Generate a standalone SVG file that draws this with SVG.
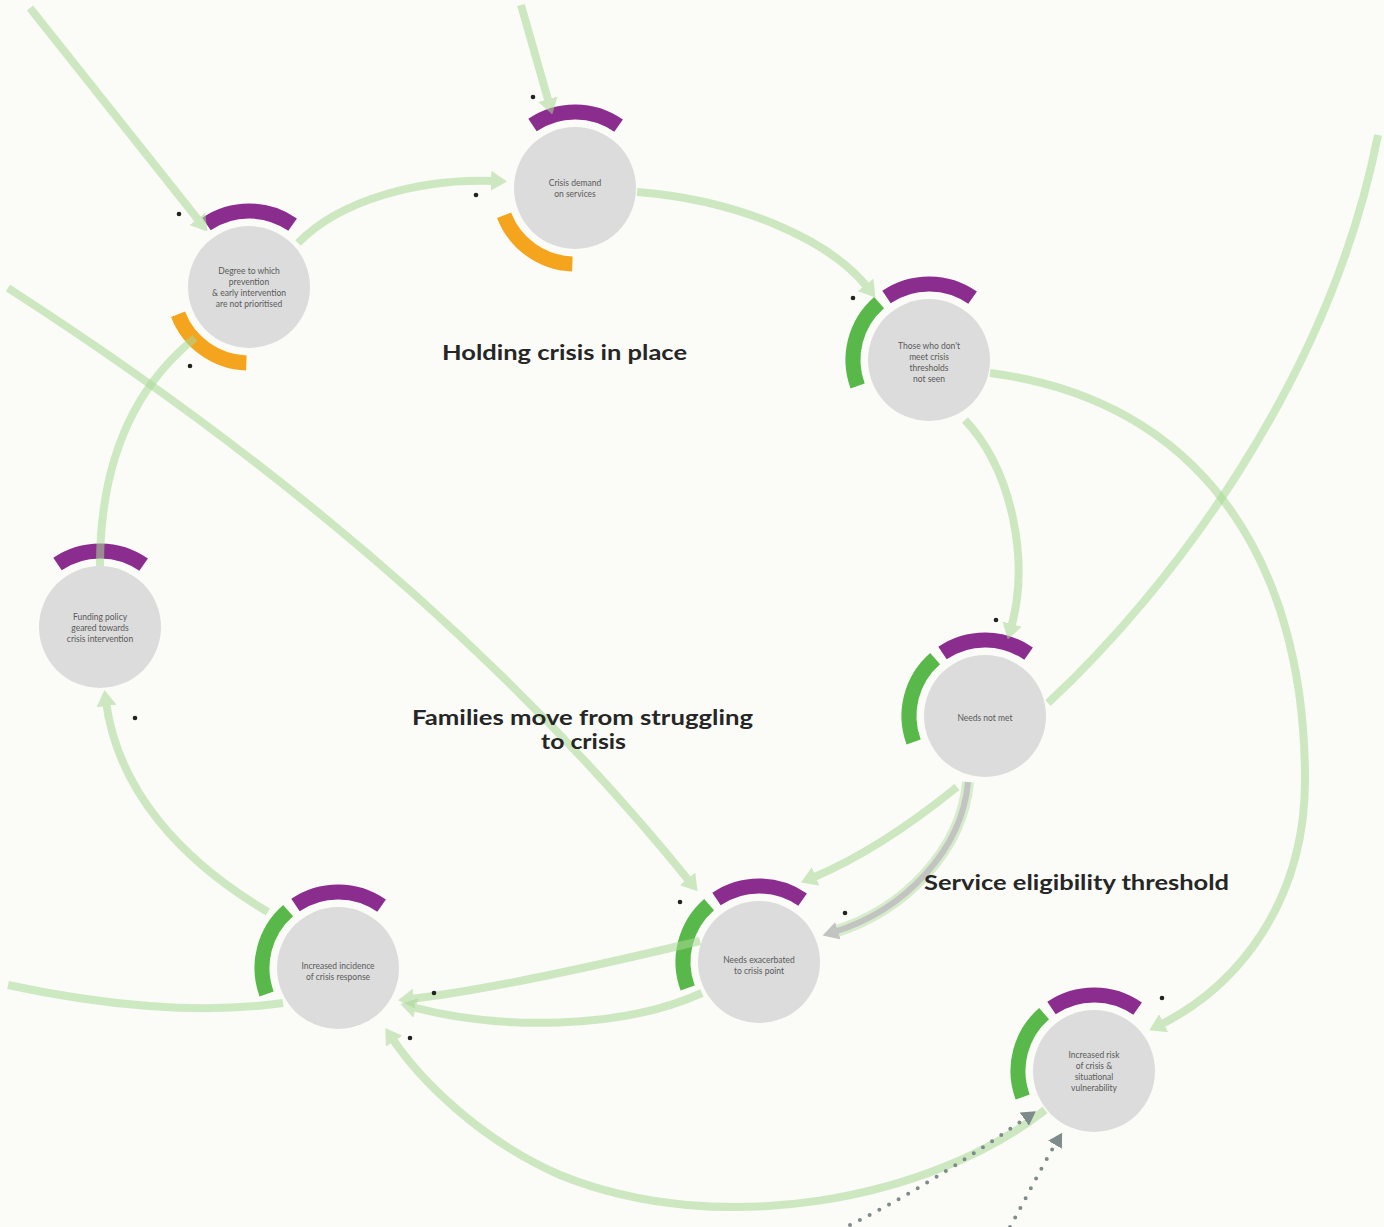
<svg xmlns="http://www.w3.org/2000/svg" xmlns:xlink="http://www.w3.org/1999/xlink" width="1384" height="1227" viewBox="0 0 1384 1227">
  <style>
    .disc { fill: #dcdcdc; }
    .pur { fill: none; stroke: #8b2c8f; stroke-width: 15; }
    .org { fill: none; stroke: #f5a41d; stroke-width: 15; }
    .grn { fill: none; stroke: #58b84a; stroke-width: 15; }
    .ntxt { font-family: "Lato", "Open Sans", sans-serif; font-size: 8.5px; fill: #5a5a5a; text-anchor: middle; }
    .lbl { font-family: "Lato", "Open Sans", sans-serif; font-size: 21px; font-weight: 700; fill: #262626; }
    .c { fill: none; stroke: #a8d995; stroke-width: 8; opacity: 0.55; }
    .halo { fill: none; stroke: #a8d995; stroke-width: 12; opacity: 0.45; }
    .gray { fill: none; stroke: #c2c4c2; stroke-width: 6; }
    .dots { fill: none; stroke: #7e8b8b; stroke-width: 4; stroke-linecap: round; stroke-dasharray: 0 11; }
    .pol { fill: #222; }
  </style>
  <defs>
    <marker id="ah" viewBox="0 0 16 20" refX="4" refY="10" markerWidth="16" markerHeight="20" markerUnits="userSpaceOnUse" orient="auto">
      <path d="M0,0 L16,10 L0,20 Z" fill="#a8d995"/>
    </marker>
    <marker id="ahGray" viewBox="0 0 16 18" refX="4" refY="9" markerWidth="16" markerHeight="18" markerUnits="userSpaceOnUse" orient="auto">
      <path d="M0,0 L16,9 L0,18 Z" fill="#c2c4c2"/>
    </marker>
    <marker id="ahDot" viewBox="0 0 14 16" refX="2" refY="8" markerWidth="14" markerHeight="16" markerUnits="userSpaceOnUse" orient="auto">
      <path d="M0,0 L14,8 L0,16 Z" fill="#7e8b8b"/>
    </marker>
    <!-- ring segments around a node, in node-local coordinates -->
    <path id="arcTop" d="M-42.5,-63 A76,76 0 0 1 43.6,-62.3"/>
    <path id="arcLow" d="M-2.65,75.95 A76,76 0 0 1 -70.95,27.2"/>
    <path id="arcLeft" d="M-71.4,26 A76,76 0 0 1 -49.9,-57.4"/>
  </defs>

  <rect width="1384" height="1227" fill="#fbfcf8"/>

  <!-- nodes -->
  <g id="n-prevention" transform="translate(249,287)">
    <use xlink:href="#arcTop" class="pur"/>
    <use xlink:href="#arcLow" class="org"/>
    <circle r="61" class="disc"/>
    <text class="ntxt"><tspan x="0" y="-13">Degree to which</tspan><tspan x="0" y="-2">prevention</tspan><tspan x="0" y="9">&amp; early intervention</tspan><tspan x="0" y="20">are not prioritised</tspan></text>
  </g>
  <g id="n-demand" transform="translate(575,188)">
    <use xlink:href="#arcTop" class="pur"/>
    <use xlink:href="#arcLow" class="org"/>
    <circle r="61" class="disc"/>
    <text class="ntxt"><tspan x="0" y="-2">Crisis demand</tspan><tspan x="0" y="9">on services</tspan></text>
  </g>
  <g id="n-unseen" transform="translate(929,360)">
    <use xlink:href="#arcTop" class="pur"/>
    <use xlink:href="#arcLeft" class="grn"/>
    <circle r="61" class="disc"/>
    <text class="ntxt"><tspan x="0" y="-11">Those who don't</tspan><tspan x="0" y="0">meet crisis</tspan><tspan x="0" y="11">thresholds</tspan><tspan x="0" y="22">not seen</tspan></text>
  </g>
  <g id="n-needs" transform="translate(985,716)">
    <use xlink:href="#arcTop" class="pur"/>
    <use xlink:href="#arcLeft" class="grn"/>
    <circle r="61" class="disc"/>
    <text class="ntxt"><tspan x="0" y="5">Needs not met</tspan></text>
  </g>
  <g id="n-escalated" transform="translate(759,962)">
    <use xlink:href="#arcTop" class="pur"/>
    <use xlink:href="#arcLeft" class="grn"/>
    <circle r="61" class="disc"/>
    <text class="ntxt"><tspan x="0" y="1">Needs exacerbated</tspan><tspan x="0" y="12">to crisis point</tspan></text>
  </g>
  <g id="n-incidence" transform="translate(338,968)">
    <use xlink:href="#arcTop" class="pur"/>
    <use xlink:href="#arcLeft" class="grn"/>
    <circle r="61" class="disc"/>
    <text class="ntxt"><tspan x="0" y="1">Increased incidence</tspan><tspan x="0" y="12">of crisis response</tspan></text>
  </g>
  <g id="n-funding" transform="translate(100,627)">
    <use xlink:href="#arcTop" class="pur"/>
    <circle r="61" class="disc"/>
    <text class="ntxt"><tspan x="0" y="-7">Funding policy</tspan><tspan x="0" y="4">geared towards</tspan><tspan x="0" y="15">crisis intervention</tspan></text>
  </g>
  <g id="n-risk" transform="translate(1094,1071)">
    <use xlink:href="#arcTop" class="pur"/>
    <use xlink:href="#arcLeft" class="grn"/>
    <circle r="61" class="disc"/>
    <text class="ntxt"><tspan x="0" y="-13">Increased risk</tspan><tspan x="0" y="-2">of crisis &amp;</tspan><tspan x="0" y="9">situational</tspan><tspan x="0" y="20">vulnerability</tspan></text>
  </g>

  <!-- connectors -->
  <g id="connectors">
    <path class="c" d="M30,8 L200,222" marker-end="url(#ah)"/>
    <path class="c" d="M521,5 L549,103" marker-end="url(#ah)"/>
    <path class="c" d="M298,243 C340,200 420,178 495,181" marker-end="url(#ah)"/>
    <path class="c" d="M637,192 C740,200 830,240 868,288" marker-end="url(#ah)"/>
    <path class="c" d="M965,420 C1012,470 1030,560 1011,628" marker-end="url(#ah)"/>
    <path class="c" d="M990,373 C1200,400 1305,560 1305,780 C1305,900 1240,985 1160,1025" marker-end="url(#ah)"/>
    <path class="c" d="M1048,703 C1170,590 1330,380 1378,135"/>
    <path class="c" d="M957,787 C910,825 860,858 812,878" marker-end="url(#ah)"/>
    <path class="c" d="M700,941 C600,965 490,990 410,999" marker-end="url(#ah)"/>
    <path class="c" d="M702,993 C620,1030 500,1030 412,1007" marker-end="url(#ah)"/>
    <path class="c" d="M8,288 Q430,560 690,882" marker-end="url(#ah)"/>
    <path class="c" d="M268,912 C180,860 118,790 106,702" marker-end="url(#ah)"/>
    <path class="c" d="M100,566 C100,470 128,392 195,338"/>
    <path class="c" d="M8,985 C100,1005 200,1015 283,1003"/>
    <path class="c" d="M1045,1110 C930,1200 720,1240 560,1175 C480,1140 420,1080 392,1038" marker-end="url(#ah)"/>
    <path class="halo" d="M968,782 C962,850 905,910 834,932"/>
    <path class="gray" d="M968,782 C962,850 905,910 834,932" marker-end="url(#ahGray)"/>
    <path class="dots" d="M850,1225 C920,1190 980,1150 1026,1118" marker-end="url(#ahDot)"/>
    <path class="dots" d="M1010,1227 C1025,1200 1040,1170 1056,1143" marker-end="url(#ahDot)"/>
  </g>

  <!-- polarity marks -->
  <g id="polarity">
    <circle class="pol" cx="179" cy="214" r="2.3"/>
    <circle class="pol" cx="190" cy="366" r="2.3"/>
    <circle class="pol" cx="476" cy="195" r="2.3"/>
    <circle class="pol" cx="533" cy="97" r="2.3"/>
    <circle class="pol" cx="853" cy="298" r="2.3"/>
    <circle class="pol" cx="996" cy="620" r="2.3"/>
    <circle class="pol" cx="135" cy="718" r="2.3"/>
    <circle class="pol" cx="680" cy="902" r="2.3"/>
    <circle class="pol" cx="845" cy="913" r="2.3"/>
    <circle class="pol" cx="434" cy="993" r="2.3"/>
    <circle class="pol" cx="410" cy="1038" r="2.3"/>
    <circle class="pol" cx="1162" cy="998" r="2.3"/>
  </g>

  <!-- loop labels -->
  <g id="labels">
    <text class="lbl" x="442" y="360" textLength="245" lengthAdjust="spacingAndGlyphs">Holding crisis in place</text>
    <text class="lbl" x="412" y="725" textLength="341" lengthAdjust="spacingAndGlyphs">Families move from struggling</text>
    <text class="lbl" x="541" y="749" textLength="85" lengthAdjust="spacingAndGlyphs">to crisis</text>
    <text class="lbl" x="924" y="890" textLength="305" lengthAdjust="spacingAndGlyphs">Service eligibility threshold</text>
  </g>
</svg>
